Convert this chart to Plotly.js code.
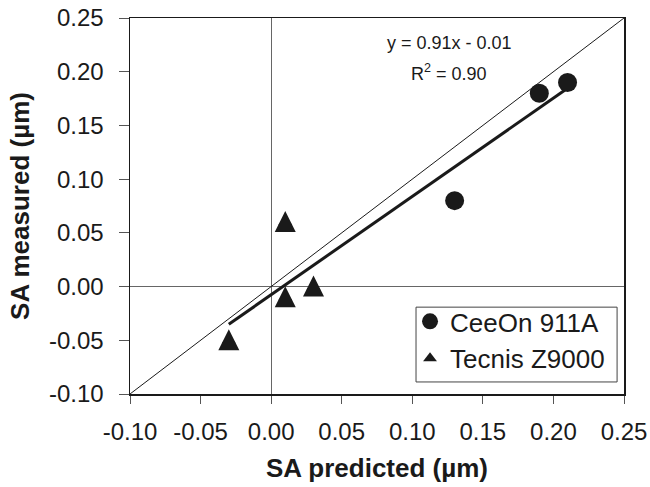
<!DOCTYPE html>
<html><head><meta charset="utf-8">
<script src="https://cdn.plot.ly/plotly-3.0.1.min.js"></script>
<style>html,body{margin:0;padding:0;background:#fff}#chart{width:650px;height:487px}</style>
</head><body><div id="chart"></div>
<script>
// ---- data ----
const ceeonX = [0.13, 0.19, 0.21];
const ceeonY = [0.08, 0.18, 0.19];
const tecnisX = [-0.03, 0.01, 0.01, 0.03];
const tecnisY = [-0.05, -0.01, 0.06, 0.00];
const seriesNames = ['CeeOn 911A', 'Tecnis Z9000'];
const axisRange = [-0.10, 0.25];
const tickValues = [-0.10, -0.05, 0.00, 0.05, 0.10, 0.15, 0.20, 0.25];
const tickLabels = ['-0.10', '-0.05', '0.00', '0.05', '0.10', '0.15', '0.20', '0.25'];
const fitLabel = 'y = 0.91x - 0.01';
const r2Label = 'R<sup>2</sup> = 0.90';
const xTitle = 'SA predicted (\u00b5m)';
const yTitle = 'SA measured (\u00b5m)';

// least-squares fit over all points
const allX = ceeonX.concat(tecnisX);
const allY = ceeonY.concat(tecnisY);
const n = allX.length;
const mx = allX.reduce((a, b) => a + b, 0) / n;
const my = allY.reduce((a, b) => a + b, 0) / n;
let sxy = 0, sxx = 0;
for (let i = 0; i < n; i++) { sxy += (allX[i] - mx) * (allY[i] - my); sxx += (allX[i] - mx) ** 2; }
const slope = sxy / sxx, intercept = my - slope * mx;
const fitX = [Math.min(...allX), Math.max(...allX)];
const fitY = fitX.map(v => slope * v + intercept);

const FONT = 'Liberation Sans, Arial, Helvetica, sans-serif';
const INK = '#1a1a1a';

const traces = [
  {x: axisRange, y: axisRange, mode: 'lines', line: {color: INK, width: 1}, showlegend: false, hoverinfo: 'skip'},
  {x: fitX, y: fitY, mode: 'lines', line: {color: INK, width: 3}, showlegend: false, hoverinfo: 'skip'},
  {x: ceeonX, y: ceeonY, mode: 'markers', name: seriesNames[0],
   marker: {symbol: 'circle', size: 19, color: INK}},
  {x: tecnisX, y: tecnisY, mode: 'markers', name: seriesNames[1],
   marker: {symbol: 'triangle-up', size: 12, color: INK}}
];

// taller triangles for the data points, anchored at each data value
const triShapes = tecnisX.map((xv, i) => ({
  type: 'path', xref: 'x', yref: 'y', xsizemode: 'pixel', ysizemode: 'pixel',
  xanchor: xv, yanchor: tecnisY[i], path: 'M-10.5,-10 L10.5,-10 L0,11 Z',
  fillcolor: INK, line: {width: 0}, layer: 'above'
}));

// legend frame
const legendBox = {type: 'rect', xref: 'paper', yref: 'paper',
  x0: 0.579, x1: 0.986, y0: 0.032, y1: 0.231,
  fillcolor: '#fff', line: {color: '#444', width: 1}, layer: 'above'};

const axisCommon = {
  range: axisRange, tickmode: 'array', tickvals: tickValues, ticktext: tickLabels,
  ticks: 'outside', tickcolor: '#555', tickwidth: 1,
  showline: true, linecolor: INK, linewidth: 1.5, mirror: true,
  showgrid: false, zeroline: true, zerolinecolor: '#666', zerolinewidth: 1,
  tickfont: {family: FONT, size: 24, color: INK}, fixedrange: true
};

const layout = {
  width: 650, height: 487, paper_bgcolor: '#fff', plot_bgcolor: '#fff',
  margin: {l: 130, r: 26, t: 18, b: 93},
  font: {family: FONT, color: INK},
  xaxis: Object.assign({}, axisCommon, {ticklen: 8, ticklabelstandoff: 8,
    title: {text: xTitle, font: {family: FONT, size: 26, weight: 'bold', color: INK}, standoff: 14}}),
  yaxis: Object.assign({}, axisCommon, {ticklen: 10, ticklabelstandoff: 10,
    title: {text: yTitle, font: {family: FONT, size: 26, weight: 'bold', color: INK}, standoff: 12}}),
  showlegend: true,
  legend: {x: 0.579, y: 0.032, xanchor: 'left', yanchor: 'bottom', bgcolor: 'rgba(0,0,0,0)',
    borderwidth: 0, indentation: -6, font: {family: FONT, size: 26, color: INK}},
  shapes: triShapes.concat([legendBox]),
  annotations: [
    {xref: 'paper', yref: 'paper', x: 0.646, y: 0.933, yanchor: 'middle', text: fitLabel, showarrow: false,
     font: {family: FONT, size: 18, color: INK}},
    {xref: 'paper', yref: 'paper', x: 0.646, y: 0.856, yanchor: 'middle', text: r2Label, showarrow: false,
     font: {family: FONT, size: 18, color: INK}}
  ]
};

Plotly.newPlot('chart', traces, layout, {displayModeBar: false, staticPlot: true});
</script>
</body></html>
